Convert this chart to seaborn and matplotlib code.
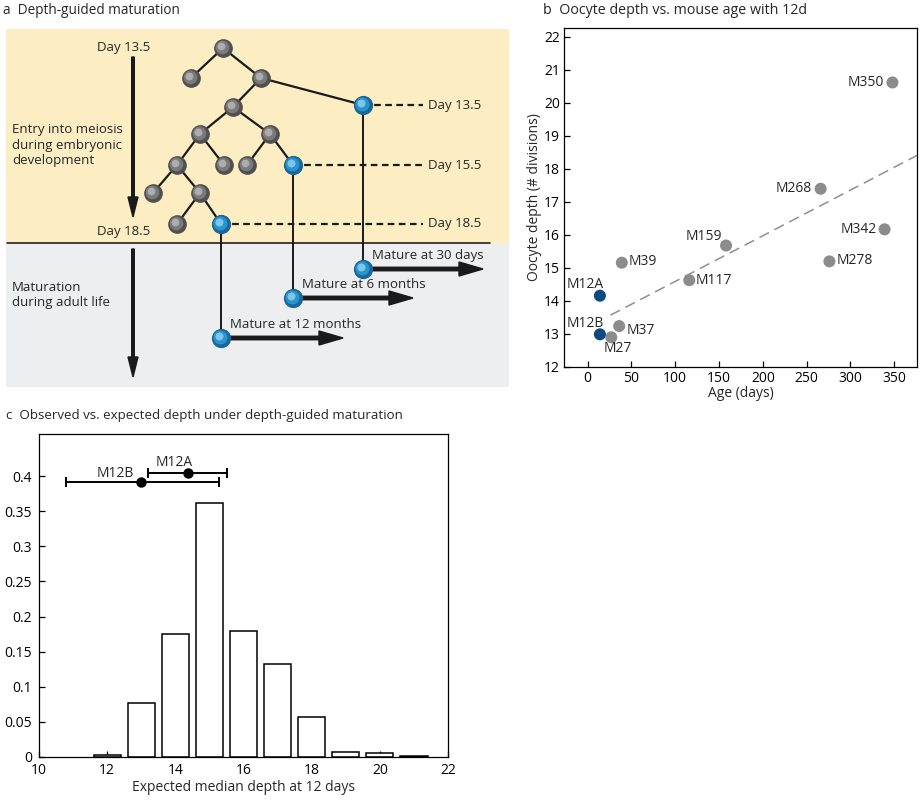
import numpy as np
import pandas as pd
import matplotlib
matplotlib.use('Agg')
import matplotlib.pyplot as plt
import seaborn as sns

# panel a: lineage tree (positions in panel pixels)
node_x = [223, 191, 261, 233, 363, 200, 270, 177, 224, 247, 293, 153, 200, 177, 221]
node_y = [48, 78, 78, 107, 105, 134, 134, 165, 165, 165, 165, 193, 193, 224, 224]
blue_nodes = [4, 10, 14]
edges = [(0, 1), (0, 2), (2, 3), (2, 4), (3, 5), (3, 6), (5, 7), (5, 8),
         (6, 9), (6, 10), (7, 11), (7, 12), (12, 13), (12, 14)]
entry_days = ['Day 13.5', 'Day 15.5', 'Day 18.5']
mature_y = [269, 298, 338]
mature_end = [483, 413, 343]
mature_labels = ['Mature at 30 days', 'Mature at 6 months', 'Mature at 12 months']

# panel b: oocyte depth vs age
mice = ['M350', 'M268', 'M342', 'M278', 'M159', 'M117', 'M39', 'M37', 'M27', 'M12A', 'M12B']
age = [348, 266, 339, 276, 158, 116, 39, 36, 27, 14, 14]
depth = [20.62, 17.4, 16.17, 15.2, 15.68, 14.63, 15.16, 13.24, 12.9, 14.16, 12.99]
kind = ['other'] * 9 + ['12d', '12d']
label_dx = [-8, -9, -8, 7, -4, 6, 7, 7, 7, -15, -15]
label_dy = [0, 0, 0, 1, 9, 0, 1, -4, -11, 11, 11]
label_ha = ['right', 'right', 'right', 'left', 'right', 'left', 'left', 'left', 'center', 'center', 'center']
fit_x = [26, 376]
fit_y = [13.57, 18.41]

# panel c: expected median depth distribution
depth_bins = [12, 13, 14, 15, 16, 17, 18, 19, 20, 21]
freq = [0.003, 0.077, 0.175, 0.362, 0.180, 0.133, 0.057, 0.007, 0.005, 0.001]
obs_names = ['M12A', 'M12B']
obs_x = [14.36, 13.0]
obs_y = [0.405, 0.3915]
obs_lo = [13.2, 10.78]
obs_hi = [15.51, 15.27]

sns.set_theme(style='white')
plt.rcParams['font.family'] = ['Open Sans', 'DejaVu Sans']
plt.rcParams['font.size'] = 9.5

W, H = 921, 800
fig = plt.figure(figsize=(W / 100, H / 100), dpi=100)


def rect(left, top, right, bottom):
    return [left / W, 1 - bottom / H, (right - left) / W, (bottom - top) / H]


# ---- panel a
ax = fig.add_axes(rect(0, 0, 520, 400))
ax.set_xlim(0, 520)
ax.set_ylim(400, 0)
ax.axis('off')
ax.fill_between([6, 509], 29, 243, color='#fcedc3', lw=0)
ax.fill_between([6, 509], 243, 387, color='#edeef0', lw=0)
ax.plot([7, 490], [243, 243], color='#222222', lw=1.2)

for a, b in edges:
    ax.plot([node_x[a], node_x[b]], [node_y[a], node_y[b]], color='#1a1a1a', lw=1.6, zorder=2)

for i, b in enumerate(blue_nodes):
    ax.plot([node_x[b], 423], [node_y[b], node_y[b]], color='#1a1a1a', lw=1.6, ls=(0, (3, 2)), zorder=2)
    ax.text(428, node_y[b], entry_days[i], va='center', ha='left', fontsize=9.5)
    ax.plot([node_x[b], node_x[b]], [node_y[b], mature_y[i]], color='#1a1a1a', lw=1.4, zorder=2)
    ax.arrow(node_x[b], mature_y[i], mature_end[i] - node_x[b], 0, width=3.5, head_width=14,
             head_length=24, length_includes_head=True, color='#1a1a1a', zorder=2)
    ax.text(node_x[b] + 9, mature_y[i] - 14, mature_labels[i], va='center', ha='left', fontsize=9.5)

gx = [node_x[i] for i in range(len(node_x)) if i not in blue_nodes]
gy = [node_y[i] for i in range(len(node_y)) if i not in blue_nodes]
bx = [node_x[b] for b in blue_nodes] + [node_x[b] for b in blue_nodes]
by = [node_y[b] for b in blue_nodes] + mature_y


def sphere(xs, ys, cols, size):
    xs, ys = np.array(xs), np.array(ys)
    ax.scatter(xs, ys, s=size, color=cols[0], edgecolor=cols[0], zorder=3)
    ax.scatter(xs - 1.2, ys - 1.2, s=size * 0.62, color=cols[1], lw=0, zorder=4)
    ax.scatter(xs - 2.4, ys - 2.4, s=size * 0.2, color=cols[2], lw=0, zorder=5)


sphere(gx, gy, ['#505050', '#7a7a7a', '#adadad'], 155)
sphere(bx, by, ['#19679a', '#2a93cb', '#7cc6ec'], 165)

ax.text(97, 47, 'Day 13.5', va='center', ha='left', fontsize=9.5)
ax.text(97, 231, 'Day 18.5', va='center', ha='left', fontsize=9.5)
ax.arrow(133, 57, 0, 160, width=2.6, head_width=10, head_length=20, length_includes_head=True, color='#1a1a1a')
ax.arrow(133, 249, 0, 128, width=2.6, head_width=10, head_length=20, length_includes_head=True, color='#1a1a1a')
ax.text(12, 145, 'Entry into meiosis\nduring embryonic\ndevelopment', va='center', ha='left',
        fontsize=9.5, linespacing=1.25)
ax.text(12, 295, 'Maturation\nduring adult life', va='center', ha='left', fontsize=9.5, linespacing=1.25)

# ---- panel b
df = pd.DataFrame({'mouse': mice, 'age': age, 'depth': depth, 'kind': kind})
axb = fig.add_axes(rect(564, 28, 917, 367))
sns.lineplot(x=fit_x, y=fit_y, ax=axb, color='#8f8f8f', lw=1.1, linestyle=(0, (7, 4)))
sns.scatterplot(data=df, x='age', y='depth', hue='kind', palette={'other': '#8c8c8c', '12d': '#0c4a80'},
                s=75, edgecolor='none', legend=False, ax=axb, zorder=3)
for i, m in enumerate(mice):
    axb.annotate(m, (age[i], depth[i]), xytext=(label_dx[i], label_dy[i]), textcoords='offset pixels',
                 ha=label_ha[i], va='center', fontsize=10)
axb.set_xlim(-27, 376)
axb.set_ylim(12, 22.27)
axb.set_xticks(range(0, 351, 50))
axb.set_yticks(range(12, 23))
axb.set_xlabel('Age (days)', fontsize=10, labelpad=0)
axb.set_ylabel('Oocyte depth (# divisions)', fontsize=10, labelpad=1)

# ---- panel c
axc = fig.add_axes(rect(39, 434, 448, 757))
sns.barplot(x=depth_bins, y=freq, native_scale=True, color='white', edgecolor='black',
            linewidth=1.1, width=0.8, ax=axc)
axc.errorbar(obs_x, obs_y, xerr=[np.subtract(obs_x, obs_lo), np.subtract(obs_hi, obs_x)],
             fmt='o', color='black', ms=6.5, capsize=3.6, elinewidth=1.4, capthick=1.4, zorder=4)
axc.text(13.98, 0.42, obs_names[0], ha='center', va='center', fontsize=10)
axc.text(12.23, 0.404, obs_names[1], ha='center', va='center', fontsize=10)
axc.set_xlim(10, 22)
axc.set_ylim(0, 0.46)
axc.set_xticks(range(10, 23, 2))
axc.set_yticks([0, 0.05, 0.1, 0.15, 0.2, 0.25, 0.3, 0.35, 0.4])
axc.set_yticklabels(['0', '0.05', '0.1', '0.15', '0.2', '0.25', '0.3', '0.35', '0.4'])
axc.set_xlabel('Expected median depth at 12 days', fontsize=10, labelpad=2)

for a in (axb, axc):
    for sp in a.spines.values():
        sp.set_color('black')
        sp.set_linewidth(0.9)
    a.tick_params(direction='in', length=4, width=0.9, labelsize=10, pad=3, colors='black',
                  bottom=True, left=True)
axc.tick_params(axis='y', pad=5)
axc.tick_params(axis='x', pad=4)

fig.text(3 / W, 1 - 11 / H, 'a  Depth-guided maturation', fontsize=9.8, va='center', ha='left')
fig.text(543 / W, 1 - 11 / H, 'b  Oocyte depth vs. mouse age with 12d', fontsize=10.3, va='center', ha='left')
fig.text(6 / W, 1 - 415 / H, 'c  Observed vs. expected depth under depth-guided maturation',
         fontsize=9.6, va='center', ha='left')

fig.savefig('out.png', dpi=100)
